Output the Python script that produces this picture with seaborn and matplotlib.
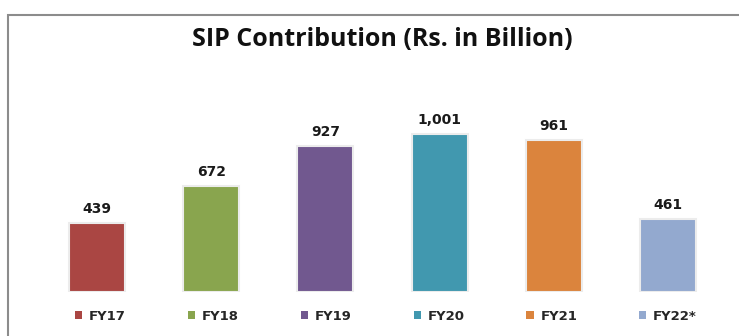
import matplotlib
matplotlib.use("Agg")
import matplotlib.pyplot as plt
import seaborn as sns
import pandas as pd
from matplotlib.patches import Patch, Rectangle

years = ["FY17", "FY18", "FY19", "FY20", "FY21", "FY22*"]
contribution = [439, 672, 927, 1001, 961, 461]
value_labels = ["439", "672", "927", "1,001", "961", "461"]
colors = ["#AA4643", "#89A54E", "#71588F", "#4198AF", "#DB843D", "#93A9CF"]

sns.set_theme(style="white")
plt.rcParams["font.family"] = ["DejaVu Sans"]

df = pd.DataFrame({"year": years, "value": contribution})

fig = plt.figure(figsize=(7.39, 3.36), dpi=100)
fig.patch.set_facecolor("white")

# outer chart frame
fig.add_artist(Rectangle((8 / 739, -0.1), 1.2, (336 - 15) / 336 + 0.1,
                         transform=fig.transFigure, fill=False,
                         edgecolor="#8c8c8c", linewidth=1.5))

ax = fig.add_axes([40 / 739, 0.131, 685 / 739, 0.5637])
sns.barplot(data=df, x="year", y="value", hue="year", palette=colors,
            order=years, hue_order=years, legend=False, width=0.49,
            saturation=1, edgecolor="#ececec", linewidth=1.5, ax=ax)
ax.set_xlim(-0.5, 5.5)
ax.set_ylim(0, 1200)
for s in ax.spines.values():
    s.set_visible(False)
ax.set_xticks([])
ax.set_yticks([])
ax.set_xlabel("")
ax.set_ylabel("")

for i, (v, lab) in enumerate(zip(contribution, value_labels)):
    ax.annotate(lab, (i, v), xytext=(0, 5), textcoords="offset points",
                ha="center", va="bottom", fontsize=10, fontweight="bold",
                family="DejaVu Sans", color="#1a1a1a")

fig.text(382 / 739, 1 - 40 / 336, "SIP Contribution (Rs. in Billion)",
         ha="center", va="center", fontsize=18, fontweight="bold",
         family=["Open Sans", "DejaVu Sans"], color="#111111")

handles = [Patch(facecolor=c, edgecolor="none") for c in colors]
leg = fig.legend(handles, years, loc="center", bbox_to_anchor=(386 / 739, 1 - 316 / 336),
                 ncol=6, frameon=False, handlelength=0.55, handleheight=0.55,
                 handletextpad=0.5, columnspacing=4.7,
                 prop={"weight": "bold", "size": 9.5, "family": "DejaVu Sans"})

fig.savefig("out.png", dpi=100)
